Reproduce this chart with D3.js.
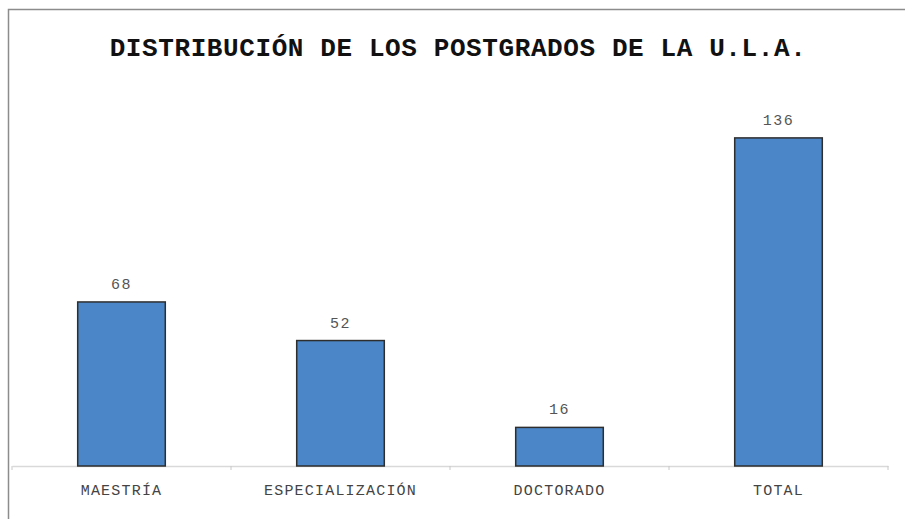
<!DOCTYPE html>
<html>
<head>
<meta charset="utf-8">
<script src="https://cdn.jsdelivr.net/npm/d3@7"></script>
<style>
  body { margin: 0; background: #fff; }
  svg { display: block; }
</style>
</head>
<body>
<svg id="chart" width="905" height="519"></svg>
<script>
// datos
const categorias = ["MAESTRÍA", "ESPECIALIZACIÓN", "DOCTORADO", "TOTAL"];
const valores = [68, 52, 16, 136];
const titulo = "DISTRIBUCIÓN DE LOS POSTGRADOS DE LA U.L.A.";

const svg = d3.select("#chart");
const fuente = "'Courier New', 'Liberation Mono', monospace";

// marco (solo arriba y a la izquierda)
svg.append("path")
   .attr("d", "M8.5,519 L8.5,9.5 L905,9.5")
   .attr("fill", "none")
   .attr("stroke", "#8c8c8c")
   .attr("stroke-width", 1.5);

svg.append("text")
   .attr("x", 458)
   .attr("y", 56)
   .attr("text-anchor", "middle")
   .style("font-family", fuente)
   .style("font-weight", "bold")
   .style("font-size", "26px")
   .style("letter-spacing", "0.6px")
   .attr("fill", "#111")
   .text(titulo);

let x = d3.scaleBand()
          .domain(categorias)
          .range([12, 888])
          .paddingInner(0.6)
          .paddingOuter(0.3);

let y = d3.scaleLinear()
          .domain([0, 160])
          .range([466, 80]);

// eje x
let xAxis = d3.axisBottom(x).tickSize(0).tickFormat("");
let gx = svg.append("g")
            .attr("transform", "translate(0,466)")
            .call(xAxis);
gx.select(".domain").attr("stroke", "#d9d9d9").attr("stroke-width", 1.5);

// marcas entre categorias
let bordes = categorias.map(c => x(c) - x.step() * x.paddingInner() / 2);
bordes[0] = 12;
bordes.push(888);
svg.append("g").selectAll("line")
   .data(bordes)
   .join("line")
   .attr("x1", d => d).attr("x2", d => d)
   .attr("y1", 466).attr("y2", 470)
   .attr("stroke", "#c8c8c8");

svg.append("g").selectAll("text")
   .data(categorias)
   .join("text")
   .attr("x", d => x(d) + x.bandwidth() / 2)
   .attr("y", 495)
   .attr("text-anchor", "middle")
   .style("font-family", fuente)
   .style("font-size", "15px")
   .style("letter-spacing", "1.2px")
   .attr("fill", "#444")
   .text(d => d);

// barras
svg.append("g").selectAll("rect")
   .data(valores)
   .join("rect")
   .attr("x", (d, i) => x(categorias[i]))
   .attr("y", d => y(d))
   .attr("width", x.bandwidth())
   .attr("height", d => 466 - y(d))
   .attr("fill", "#4a86c8")
   .attr("stroke", "#2e2e2e")
   .attr("stroke-width", 1.5);

svg.append("g").selectAll("text")
   .data(valores)
   .join("text")
   .attr("x", (d, i) => x(categorias[i]) + x.bandwidth() / 2)
   .attr("y", d => y(d) - 13)
   .attr("text-anchor", "middle")
   .style("font-family", fuente)
   .style("font-size", "15px")
   .style("letter-spacing", "1.5px")
   .attr("fill", "#555")
   .text(d => d);
</script>
</body>
</html>
